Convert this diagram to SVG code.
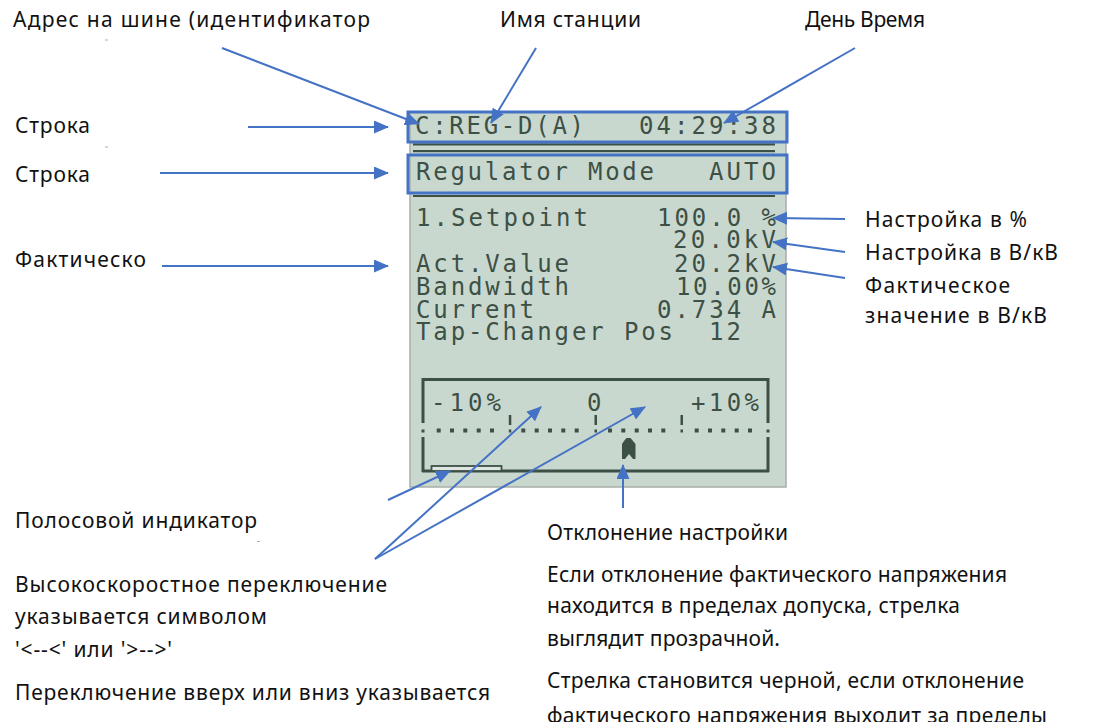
<svg xmlns="http://www.w3.org/2000/svg" width="1093" height="722" viewBox="0 0 1093 722">
<defs>
<style>
.lbl{font-family:"Noto Sans","Liberation Sans",sans-serif;font-size:21px;fill:#111}
.lcd{font-family:"DejaVu Sans Mono","Liberation Mono",monospace;font-size:24px;fill:#3d5045}
.con{stroke:#4472c4;stroke-width:2;fill:none;marker-end:url(#ah)}
.hl{fill:none;stroke:#4472c4;stroke-width:3}
.dk{fill:#3d5045}
</style>
<marker id="ah" markerUnits="userSpaceOnUse" markerWidth="16" markerHeight="14" refX="14" refY="6.5" orient="auto">
<path d="M0,0 L15,6.5 L0,13 z" fill="#4472c4"/>
</marker>
</defs>
<rect width="1093" height="722" fill="#ffffff"/>

<g id="lcd-panel">
<rect x="410" y="112" width="376" height="375" fill="#c9d8cf" stroke="#a9aeaa" stroke-width="1.5"/>
<rect x="413" y="143.3" width="362" height="2.2" class="dk"/>
<rect x="413" y="150" width="362" height="2.2" class="dk"/>
<rect x="413" y="195" width="362" height="2" class="dk"/>
<text class="lcd" x="415" y="134" textLength="169" lengthAdjust="spacing">C:REG-D(A)</text>
<text class="lcd" x="639" y="134" textLength="137" lengthAdjust="spacing">04:29:38</text>
<text class="lcd" x="416" y="180" textLength="238" lengthAdjust="spacing">Regulator Mode</text>
<text class="lcd" x="709" y="180" textLength="67" lengthAdjust="spacing">AUTO</text>
<text class="lcd" x="416" y="226" textLength="172" lengthAdjust="spacing">1.Setpoint</text>
<text class="lcd" x="657" y="226" textLength="119" lengthAdjust="spacing">100.0 %</text>
<text class="lcd" x="673" y="248" textLength="103" lengthAdjust="spacing">20.0kV</text>
<text class="lcd" x="416" y="272" textLength="153" lengthAdjust="spacing">Act.Value</text>
<text class="lcd" x="674" y="272" textLength="102" lengthAdjust="spacing">20.2kV</text>
<text class="lcd" x="416" y="295" textLength="153" lengthAdjust="spacing">Bandwidth</text>
<text class="lcd" x="676" y="295" textLength="100" lengthAdjust="spacing">10.00%</text>
<text class="lcd" x="416" y="318" textLength="118" lengthAdjust="spacing">Current</text>
<text class="lcd" x="657" y="318" textLength="119" lengthAdjust="spacing">0.734 A</text>
<text class="lcd" x="416" y="340" textLength="257" lengthAdjust="spacing">Tap-Changer Pos</text>
<text class="lcd" x="709" y="340" textLength="32" lengthAdjust="spacing">12</text>
</g>

<g id="row1-highlight"><rect class="hl" x="408" y="112" width="379" height="30"/></g>
<g id="row2-highlight"><rect class="hl" x="408" y="155" width="379" height="38"/></g>

<g id="gauge">
<rect x="422" y="378" width="347" height="3" class="dk"/>
<rect x="422" y="469.5" width="347" height="3" class="dk"/>
<rect x="421.5" y="378" width="3" height="45" class="dk"/>
<rect x="421.5" y="437" width="3" height="35" class="dk"/>
<rect x="766.5" y="378" width="3" height="45" class="dk"/>
<rect x="766.5" y="437" width="3" height="35" class="dk"/>
<text class="lcd" x="431" y="411" textLength="70" lengthAdjust="spacing">-10%</text>
<text class="lcd" x="587" y="411">0</text>
<text class="lcd" x="691" y="411" textLength="68" lengthAdjust="spacing">+10%</text>
<rect x="508.8" y="415" width="2.5" height="10" class="dk"/>
<rect x="594.5" y="415" width="2.5" height="10" class="dk"/>
<rect x="680.5" y="415" width="2.5" height="10" class="dk"/>
<g class="dk">
<rect x="421.5" y="429.5" width="3" height="3"/>
<rect x="436.7" y="428.5" width="4" height="4"/>
<rect x="450" y="428.5" width="4" height="4"/>
<rect x="463.3" y="428.5" width="4" height="4"/>
<rect x="476.7" y="428.5" width="4" height="4"/>
<rect x="490" y="428.5" width="4" height="4"/>
<rect x="508.8" y="429.5" width="2.5" height="3"/>
<rect x="521.3" y="428.5" width="4" height="4"/>
<rect x="534.7" y="428.5" width="4" height="4"/>
<rect x="548" y="428.5" width="4" height="4"/>
<rect x="561.3" y="428.5" width="4" height="4"/>
<rect x="574.7" y="428.5" width="4" height="4"/>
<rect x="594.5" y="429.5" width="2.5" height="3"/>
<rect x="608" y="428.5" width="4" height="4"/>
<rect x="621.3" y="428.5" width="4" height="4"/>
<rect x="634.7" y="428.5" width="4" height="4"/>
<rect x="648" y="428.5" width="4" height="4"/>
<rect x="661.3" y="428.5" width="4" height="4"/>
<rect x="680.5" y="429.5" width="2.5" height="3"/>
<rect x="694.7" y="428.5" width="4" height="4"/>
<rect x="708" y="428.5" width="4" height="4"/>
<rect x="721.3" y="428.5" width="4" height="4"/>
<rect x="734.7" y="428.5" width="4" height="4"/>
<rect x="748" y="428.5" width="4" height="4"/>
<rect x="766.5" y="429.5" width="3" height="3"/>
</g>
<polygon class="dk" points="626.5,438 630.5,438 633,441 635.5,444 635.5,459 633,459 629,454 625,459 622,459 622,444 624,441"/>
<rect x="431.5" y="466" width="70" height="5" fill="#dfe6e1" stroke="#3d5045" stroke-width="1.8"/>
</g>

<g id="label-address"><text class="lbl" x="13" y="27" textLength="357" lengthAdjust="spacing">Адрес на шине (идентификатор</text></g>
<g id="label-station"><text class="lbl" x="500" y="27" textLength="141" lengthAdjust="spacing">Имя станции</text></g>
<g id="label-daytime"><text class="lbl" x="805" y="27" textLength="120" lengthAdjust="spacing">День Время</text></g>
<g id="label-row1"><text class="lbl" x="15" y="133" textLength="75" lengthAdjust="spacing">Строка</text></g>
<g id="label-row2"><text class="lbl" x="15" y="182" textLength="75" lengthAdjust="spacing">Строка</text></g>
<g id="label-actual"><text class="lbl" x="15" y="267" textLength="131" lengthAdjust="spacing">Фактическо</text></g>
<g id="label-setpoint-pct"><text class="lbl" x="865" y="227" textLength="162" lengthAdjust="spacing">Настройка в %</text></g>
<g id="label-setpoint-kv"><text class="lbl" x="865" y="260" textLength="193" lengthAdjust="spacing">Настройка в В/кВ</text></g>
<g id="label-actual-kv">
<text class="lbl" x="865" y="293" textLength="145" lengthAdjust="spacing">Фактическое</text>
<text class="lbl" x="865" y="323" textLength="182" lengthAdjust="spacing">значение в В/кВ</text>
</g>
<g id="label-bar"><text class="lbl" x="15" y="528" textLength="242" lengthAdjust="spacing">Полосовой индикатор</text></g>
<g id="label-fast">
<text class="lbl" x="15" y="592" textLength="372" lengthAdjust="spacing">Высокоскоростное переключение</text>
<text class="lbl" x="15" y="624" textLength="252" lengthAdjust="spacing">указывается символом</text>
<text class="lbl" x="15" y="657" textLength="157" lengthAdjust="spacing">'&lt;--&lt;' или '&gt;--&gt;'</text>
<text class="lbl" x="15" y="700" textLength="475" lengthAdjust="spacing">Переключение вверх или вниз указывается</text>
</g>
<g id="label-deviation">
<text class="lbl" x="547" y="540" textLength="241" lengthAdjust="spacing">Отклонение настройки</text>
<text class="lbl" x="547" y="582" textLength="460" lengthAdjust="spacing">Если отклонение фактического напряжения</text>
<text class="lbl" x="547" y="613" textLength="413" lengthAdjust="spacing">находится в пределах допуска, стрелка</text>
<text class="lbl" x="547" y="646" textLength="233" lengthAdjust="spacing">выглядит прозрачной.</text>
<text class="lbl" x="547" y="688" textLength="477" lengthAdjust="spacing">Стрелка становится черной, если отклонение</text>
<text class="lbl" x="547" y="723" textLength="500" lengthAdjust="spacing">фактического напряжения выходит за пределы</text>
</g>

<g id="marks" fill="#b0b0b0">
<rect x="105" y="39.5" width="3" height="1"/>
<rect x="105" y="146.5" width="3" height="1"/>
<rect x="257" y="541" width="3" height="1"/>
</g>

<g id="connectors">
<line class="con" x1="222" y1="48" x2="419" y2="124"/>
<line class="con" x1="536" y1="48" x2="491" y2="123"/>
<line class="con" x1="855" y1="48" x2="724" y2="123"/>
<line class="con" x1="248" y1="127" x2="388" y2="127"/>
<line class="con" x1="160" y1="173" x2="388" y2="173"/>
<line class="con" x1="162" y1="266" x2="388" y2="266"/>
<line class="con" x1="845" y1="219" x2="773" y2="218"/>
<line class="con" x1="845" y1="252" x2="773" y2="242"/>
<line class="con" x1="845" y1="278" x2="773" y2="267"/>
<line class="con" x1="388" y1="500" x2="450" y2="471"/>
<line class="con" x1="375" y1="559" x2="541" y2="407"/>
<line class="con" x1="375" y1="559" x2="645" y2="407"/>
<line class="con" x1="623" y1="508" x2="623" y2="465"/>
</g>
</svg>
